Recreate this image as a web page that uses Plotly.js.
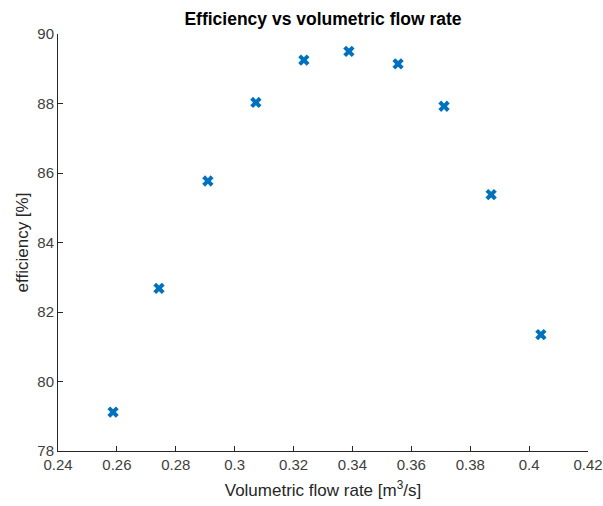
<!DOCTYPE html>
<html>
<head>
<meta charset="utf-8">
<script src="https://cdn.plot.ly/plotly-3.0.1.min.js"></script>
<style>html,body{margin:0;padding:0;background:#fff;}#chart{width:603px;height:506px;}</style>
</head>
<body>
<div id="chart"></div>
<script>
const flowRate = [0.2587, 0.2743, 0.2909, 0.3072, 0.3235, 0.3388, 0.3555, 0.3711, 0.3871, 0.4040];
const efficiency = [79.12, 82.68, 85.77, 88.03, 89.25, 89.50, 89.14, 87.92, 85.38, 81.35];
const xTicks = [0.24, 0.26, 0.28, 0.3, 0.32, 0.34, 0.36, 0.38, 0.4, 0.42];
const xTickLabels = ['0.24', '0.26', '0.28', '0.3', '0.32', '0.34', '0.36', '0.38', '0.4', '0.42'];
const yTicks = [78, 80, 82, 84, 86, 88, 90];

const FONT = 'Liberation Sans, Arial, Helvetica, sans-serif';
const data = [{
  x: flowRate, y: efficiency, type: 'scatter', mode: 'markers',
  marker: {symbol: 'x', size: 10, color: '#0072BD', line: {width: 0}}
}];
const axisCommon = {
  showgrid: false, zeroline: false, showline: true, linecolor: '#262626', linewidth: 1,
  ticks: 'inside', ticklen: 5, tickcolor: '#262626', mirror: false,
  tickfont: {family: FONT, size: 15, color: '#404040'}
};
const layout = {
  width: 603, height: 506,
  margin: {l: 58, r: 15, t: 34, b: 55},
  paper_bgcolor: '#fff', plot_bgcolor: '#fff',
  showlegend: false,
  title: {text: '<b>Efficiency vs volumetric flow rate</b>', x: 0.5, xref: 'paper', y: 0.962, yanchor: 'middle',
    font: {family: FONT, size: 17.5, color: '#000'}},
  xaxis: Object.assign({}, axisCommon, {
    range: [0.24, 0.42], tickvals: xTicks, ticktext: xTickLabels, ticklabelstandoff: 0,
    title: {text: 'Volumetric flow rate [m<sup>3</sup>/s]', standoff: 12,
      font: {family: FONT, size: 17, color: '#262626'}}
  }),
  yaxis: Object.assign({}, axisCommon, {
    range: [78, 90], tickvals: yTicks, ticklabelstandoff: 0,
    title: {text: 'efficiency [%]', standoff: 4,
      font: {family: FONT, size: 17, color: '#262626'}}
  })
};
Plotly.newPlot('chart', data, layout, {displayModeBar: false, staticPlot: true});
</script>
</body>
</html>
